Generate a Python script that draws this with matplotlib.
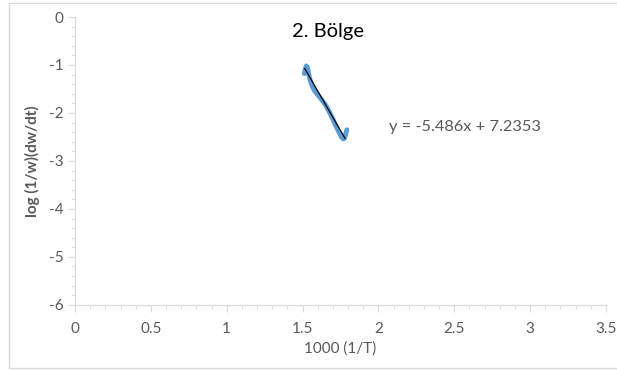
import numpy as np
import matplotlib.pyplot as plt
from matplotlib.patches import Rectangle
from matplotlib.ticker import MultipleLocator

# data (2. Bölge)
inv_T = [1.512, 1.518, 1.525, 1.532, 1.540, 1.550, 1.565, 1.580, 1.600,
         1.620, 1.640, 1.660, 1.680, 1.700, 1.720, 1.740, 1.755, 1.768,
         1.776, 1.782, 1.788, 1.792]
log_rate = [-1.18, -1.08, -1.02, -1.05, -1.18, -1.32, -1.45, -1.54, -1.62,
            -1.70, -1.78, -1.88, -2.00, -2.13, -2.27, -2.40, -2.49, -2.54,
            -2.53, -2.47, -2.40, -2.35]

slope = -5.486
intercept = 7.2353
fit_x = [1.515, 1.78]

plt.rcParams['font.family'] = ['Lato', 'DejaVu Sans']
plt.rcParams['axes.unicode_minus'] = False
grey = '#595959'

fig = plt.figure(figsize=(6.17, 3.70), dpi=100)
ax = fig.add_axes([0.1216, 0.176, 0.8604, 0.778])

fig.patches.append(Rectangle((0.015, 0.006), 1.0, 0.985, transform=fig.transFigure,
                             fill=False, edgecolor='#d9d9d9', linewidth=1))

ax.plot(inv_T, log_rate, color='#5b9bd5', linewidth=3.5, solid_capstyle='round')
fx = np.array(fit_x)
ax.plot(fx, slope * fx + intercept, color='black', linewidth=0.9)

ax.text(2.07, -2.29, 'y = -5.486x + 7.2353', fontsize=11.8, color=grey, va='center')
fig.text(328 / 617, 1 - 31 / 370, '2. Bölge', fontsize=14.5, color='black',
         ha='center', va='center')

ax.set_xlim(0, 3.5)
ax.set_ylim(-6, 0)
ax.xaxis.set_major_locator(MultipleLocator(0.5))
ax.xaxis.set_minor_locator(MultipleLocator(0.1))
ax.yaxis.set_major_locator(MultipleLocator(1))
ax.yaxis.set_minor_locator(MultipleLocator(0.2))
ax.set_xticks([0, 0.5, 1, 1.5, 2, 2.5, 3, 3.5])
ax.set_xticklabels(['0', '0.5', '1', '1.5', '2', '2.5', '3', '3.5'])

for s in ['top', 'right']:
    ax.spines[s].set_visible(False)
for s in ['left', 'bottom']:
    ax.spines[s].set_color('#d9d9d9')
ax.tick_params(which='both', colors='#d9d9d9', labelcolor=grey, labelsize=11)
ax.tick_params(which='major', length=5)
ax.tick_params(which='minor', length=3)
ax.tick_params(axis='x', pad=7)

ax.set_xlabel('1000 (1/T)', fontsize=11, color=grey, labelpad=4)
ax.set_ylabel('log (1/w)(dw/dt)', fontsize=11, color=grey, fontweight='bold', labelpad=6)

plt.savefig('out.png', dpi=100)
